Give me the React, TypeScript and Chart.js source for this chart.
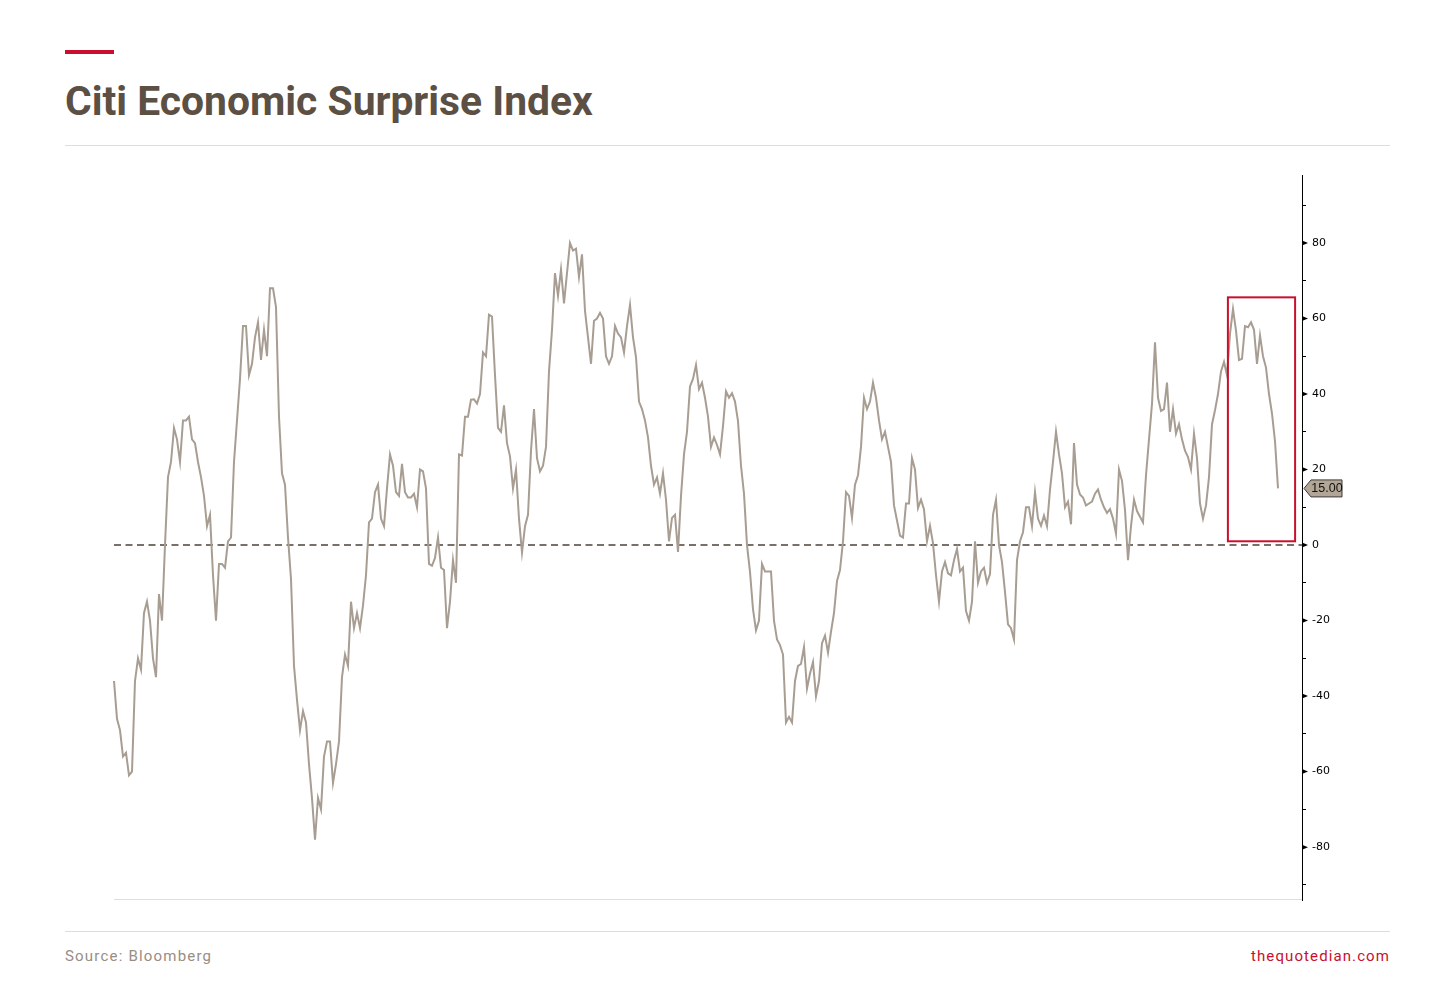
import React, { useEffect, useRef } from 'react';
import { Chart, registerables } from 'chart.js';

Chart.register(...registerables);

// weekly readings of the index, left to right
const surpriseIndex: number[] = [
  -36, -46, -49, -56, -55, -61, -60, -36, -30, -33, -18, -15, -20, -30, -35, -13, -20, 0, 18, 22,
  31, 28, 22, 33, 33, 34, 28, 27, 22, 18, 13, 5, 8, -8, -20, -5, -5, -6, 1, 2,
  22, 33, 44, 58, 58, 45, 48, 55, 59, 49, 57, 50, 68, 68, 63, 34, 19, 16, 2, -9,
  -32, -41, -49, -44, -47, -58, -67, -78, -67,
  -70, -56, -52, -52, -63, -58, -52, -35, -29, -32, -15, -22, -18, -22, -16, -8, 6, 7, 14, 16,
  7, 5, 15, 24, 21, 14, 13, 21.5, 14, 12.6, 12.6, 13.6, 10, 20, 19.5, 15, -5, -5.5, -3.4, 2,
  -6, -6.6, -22, -15, -4, -10, 24, 23.7, 34, 34, 38.5, 38.6, 37.5, 40, 51, 50, 61, 60.5, 45, 31,
  30, 37, 27, 23.5, 15, 20, 7,
  -2, 5, 8, 25, 36, 23, 19.5, 21, 26, 46, 57, 72, 66, 73, 64, 72, 80, 78, 78.5, 71,
  77, 62, 55, 48, 59.4, 60, 61.5, 60, 50, 48, 50, 58, 56, 55, 51, 58, 63.6, 55, 49.8, 38,
  36, 33, 28.5, 21, 16, 17.9, 13.6, 19, 12, 1, 7.2, 8, -1.8, 13, 24, 30, 42, 44, 47.7, 41.3,
  43, 39, 34, 26, 28.5, 26.5, 24,
  31.5, 40.7, 39, 40.2, 38, 32.8, 21, 13.6, 0, -7.1, -17, -22.6, -20, -5, -7, -7, -7, -20, -25, -26.5,
  -29, -47, -45.5, -47, -36, -32, -31.5, -27, -38, -34, -31, -40, -36, -26, -24, -28.5, -23, -18, -9.5, -6.6,
  1, 14, 13, 7.2, 16, 18.5, 26, 39, 36, 38, 43, 39, 33, 28, 30, 26, 22, 10.5, 6.5, 2.5,
  2, 11, 11, 23, 20, 9.8,
  12, 9.4, 1, 5.1, 0.5, -8, -15, -7, -4.5, -7.5, -8, -4, -1, -7, -6, -17.5, -20, -15, 1, -10,
  -7, -6, -10, -7.7, 8, 12, 0, -4.5, -12.4, -21, -22, -25, -4, 1, 3.4, 10, 10, 5, 14, 7,
  5.1, 7.8, 5, 14.7, 22, 30, 24, 19, 10, 11.5, 5.5, 27, 16, 13.4, 12.6, 10.5, 11, 11.5, 13.6, 14.7,
  12, 10, 8.5, 9.5, 7, 3, 20,
  17, 9.3, -4, 5, 12, 9, 7.5, 6, 18.5, 28, 37.4, 53.7, 39, 35.5, 36, 43, 30, 36, 29.5, 32,
  28, 25, 23.3, 20, 29.5, 23, 11, 7, 10.5, 18, 32, 35.7, 40, 46, 48.5, 45, 56, 62.5, 56.8, 49,
  49.3, 58, 57.7, 59, 57, 48, 55.5, 50, 47, 40, 34.8, 27.5, 15,
];

// empty weeks kept after the last reading, before the axis
const rightGap = 8;
const weekLabels: string[] = Array.from({ length: surpriseIndex.length + rightGap }, (_, i) => `W${i + 1}`);

const yMin = -94;
const yMax = 98;
const tickStep = 10;
const labelStep = 20;

// highlighted recent stretch (week index range, value range)
const boxWeeks = [371.3, 393.7];
const boxValues = [1, 65.6];

const lineColor = '#a89d92';
const accent = '#c8102e';

const overlays = {
  id: 'overlays',
  beforeDatasetsDraw(chart: any) {
    const { ctx, chartArea: a, scales } = chart;
    const y0 = scales.y.getPixelForValue(0);
    ctx.save();
    ctx.strokeStyle = '#dedede';
    ctx.lineWidth = 1;
    ctx.beginPath();
    ctx.moveTo(a.left, a.bottom - 0.5);
    ctx.lineTo(a.right, a.bottom - 0.5);
    ctx.stroke();

    ctx.strokeStyle = '#4d4339';
    ctx.lineWidth = 1.5;
    ctx.setLineDash([7, 4.5]);
    ctx.beginPath();
    ctx.moveTo(a.left, y0);
    ctx.lineTo(a.right, y0);
    ctx.stroke();
    ctx.restore();
  },
  afterDatasetsDraw(chart: any) {
    const { ctx, scales } = chart;
    const x1 = scales.x.getPixelForValue(boxWeeks[0]);
    const x2 = scales.x.getPixelForValue(boxWeeks[1]);
    const y1 = scales.y.getPixelForValue(boxValues[1]);
    const y2 = scales.y.getPixelForValue(boxValues[0]);
    ctx.save();
    ctx.strokeStyle = accent;
    ctx.lineWidth = 2;
    ctx.strokeRect(x1, y1, x2 - x1, y2 - y1);
    ctx.restore();
  },
  afterDraw(chart: any) {
    const { ctx, chartArea: a, scales } = chart;
    ctx.save();
    ctx.fillStyle = '#000';
    scales.y.ticks.forEach((t: any) => {
      if (t.value % labelStep !== 0) return;
      const y = scales.y.getPixelForValue(t.value);
      ctx.beginPath();
      ctx.moveTo(a.right, y - 2.5);
      ctx.lineTo(a.right + 6, y);
      ctx.lineTo(a.right, y + 2.5);
      ctx.closePath();
      ctx.fill();
    });

    // last value tag
    const last = surpriseIndex[surpriseIndex.length - 1];
    const y = scales.y.getPixelForValue(last);
    const x = a.right + 2;
    ctx.beginPath();
    ctx.moveTo(x, y);
    ctx.lineTo(x + 7, y - 8.5);
    ctx.lineTo(x + 38, y - 8.5);
    ctx.lineTo(x + 38, y + 8.5);
    ctx.lineTo(x + 7, y + 8.5);
    ctx.closePath();
    ctx.fillStyle = '#b2a697';
    ctx.fill();
    ctx.strokeStyle = '#3b3b3b';
    ctx.lineWidth = 1;
    ctx.stroke();
    ctx.fillStyle = '#111';
    ctx.font = '12.5px "Liberation Sans", Arial, sans-serif';
    ctx.textAlign = 'center';
    ctx.textBaseline = 'middle';
    ctx.fillText(last.toFixed(2), x + 23, y + 0.5);
    ctx.restore();
  },
};

function SurpriseChart() {
  const canvasRef = useRef<HTMLCanvasElement | null>(null);

  useEffect(() => {
    const canvas = canvasRef.current;
    if (!canvas) return;

    const chart = new Chart(canvas, {
      type: 'line',
      data: {
        labels: weekLabels,
        datasets: [
          {
            data: surpriseIndex,
            borderColor: lineColor,
            borderWidth: 2,
            pointRadius: 0,
            tension: 0,
            fill: false,
          },
        ],
      },
      options: {
        animation: false,
        responsive: true,
        maintainAspectRatio: false,
        layout: { padding: { left: 14, top: 10, bottom: 10, right: 0 } },
        plugins: { legend: { display: false }, tooltip: { enabled: false } },
        scales: {
          x: { display: false },
          y: {
            position: 'right',
            min: yMin,
            max: yMax,
            afterBuildTicks: (scale: any) => {
              scale.ticks = scale.ticks.filter((t: any) => t.value % tickStep === 0);
            },
            afterFit: (scale: any) => {
              scale.width = 98;
              scale.paddingTop = 0;
              scale.paddingBottom = 0;
            },
            border: { display: true, color: '#000', width: 1 },
            grid: { drawOnChartArea: false, drawTicks: true, tickLength: 4, color: '#000' },
            ticks: {
              stepSize: tickStep,
              padding: 6,
              color: '#000',
              font: { family: '"DejaVu Sans", Tahoma, sans-serif', size: 11 },
              callback: (v: any) => (Number(v) % labelStep === 0 ? String(v) : ''),
            },
          },
        },
      },
      plugins: [overlays],
    });

    return () => {
      chart.destroy();
    };
  }, []);

  return (
    <div style={{ position: 'absolute', left: 100, top: 165, width: 1300, height: 745 }}>
      <canvas ref={canvasRef}></canvas>
    </div>
  );
}

export default function App() {
  return (
    <div style={{ position: 'absolute', left: 0, top: 0, width: 1456, height: 990, background: '#fff', fontFamily: 'Roboto, sans-serif' }}>
      <div style={{ position: 'absolute', left: 65, top: 50, width: 49, height: 4, background: accent }} />
      <div style={{ position: 'absolute', left: 65, top: 81, fontSize: 40.8, lineHeight: '40px', fontWeight: 700, color: '#5c4f44' }}>
        Citi Economic Surprise Index
      </div>
      <div style={{ position: 'absolute', left: 65, top: 145, width: 1325, height: 1, background: '#dddddd' }} />
      <SurpriseChart />
      <div style={{ position: 'absolute', left: 65, top: 931, width: 1325, height: 1, background: '#dddddd' }} />
      <div style={{ position: 'absolute', left: 65, top: 947, fontSize: 15, letterSpacing: 1.2, color: '#988d83' }}>
        Source: Bloomberg
      </div>
      <div style={{ position: 'absolute', right: 66, top: 947, fontSize: 15, letterSpacing: 1.1, color: accent }}>
        thequotedian.com
      </div>
    </div>
  );
}
